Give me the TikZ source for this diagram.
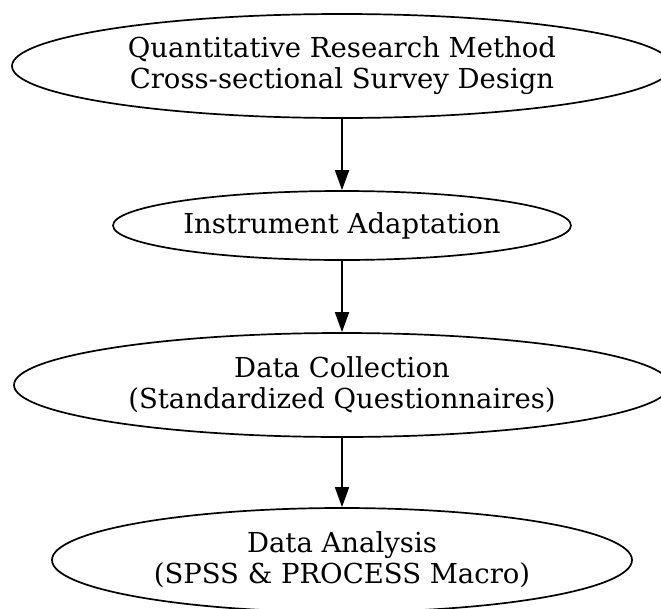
\documentclass[tikz,border=0pt]{standalone}
\usepackage{fontspec}
\setmainfont{DejaVu Serif}
\usetikzlibrary{shapes.geometric,arrows.meta}
\begin{document}
\begin{tikzpicture}[x=1pt,y=-1pt,
  stage/.style={draw=black,line width=1.7pt,ellipse,inner sep=0pt,
    font=\fontsize{27.5}{31}\selectfont,align=center},
  flow/.style={draw=black,line width=1.7pt,
    -{Triangle[length=20pt,width=14pt]}}]
  \useasboundingbox[fill=white] (0,0) rectangle (661,608);
  \node[stage,minimum width=660pt,minimum height=104pt] (method) at (342,66)
    {Quantitative Research Method\\Cross-sectional Survey Design};
  \node[stage,minimum width=458pt,minimum height=69pt] (instrument) at (342,225.5)
    {Instrument Adaptation};
  \node[stage,minimum width=656pt,minimum height=104pt] (collection) at (342,385)
    {Data Collection\\(Standardized Questionnaires)};
  \node[stage,minimum width=580pt,minimum height=104pt] (analysis) at (342,560)
    {Data Analysis\\(SPSS \& PROCESS Macro)};
  \draw[flow] (method) -- (instrument);
  \draw[flow] (instrument) -- (collection);
  \draw[flow] (collection) -- (analysis);
\end{tikzpicture}
\end{document}
